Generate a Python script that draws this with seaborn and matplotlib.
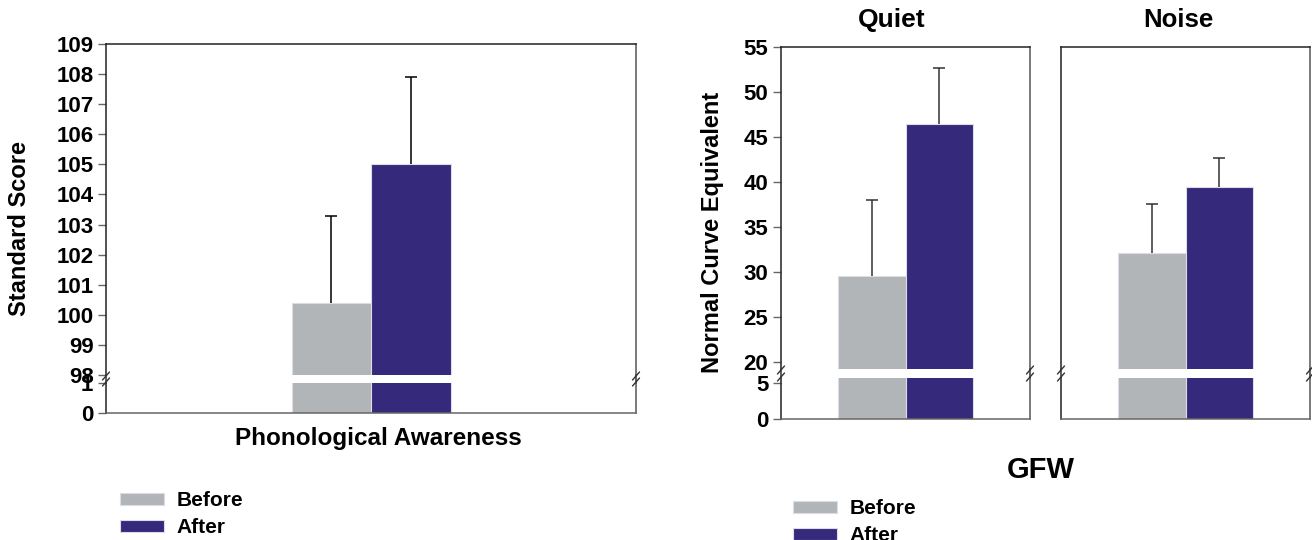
import matplotlib
matplotlib.use("Agg")
import matplotlib.pyplot as plt
import seaborn as sns
import pandas as pd
from matplotlib.lines import Line2D

# values
groups = ["Before", "After"]
pa_means = [100.4, 105.0]
pa_sd = [2.9, 2.9]
quiet_means = [29.5, 46.4]
quiet_sd = [8.5, 6.3]
noise_means = [32.1, 39.4]
noise_sd = [5.4, 3.3]

pa_ticks_upper = list(range(98, 110))
pa_ticks_lower = [0, 1]
nce_ticks_upper = list(range(20, 60, 5))
nce_ticks_lower = [0, 5]

colors = {"Before": "#b1b5b7", "After": "#35297c"}

sns.set_theme(style="white")
plt.rcParams["font.family"] = ["Liberation Sans", "DejaVu Sans"]
plt.rcParams["font.weight"] = "bold"
plt.rcParams["text.color"] = "black"
plt.rcParams["ytick.color"] = "black"

W, H = 1312, 540
fig = plt.figure(figsize=(W / 100, H / 100), dpi=100)


def px_axes(x0, x1, y0, y1):
    return fig.add_axes([x0 / W, 1 - y1 / H, (x1 - x0) / W, (y1 - y0) / H])


def fline(xs, ys, **kw):
    fig.add_artist(Line2D([x / W for x in xs], [1 - y / H for y in ys], **kw))


def broken_panel(x0, x1, top, mid_a, mid_b, bottom, means, sds, ylim_up, ylim_lo,
                 yt_up, yt_lo, width, cat, show_ticks=True, legend=False, err_color="black"):
    df = pd.DataFrame({"cat": [cat] * len(groups), "group": groups, "value": means})
    up = px_axes(x0, x1, top, mid_a)
    lo = px_axes(x0, x1, mid_b, bottom)
    for ax, leg in ((up, legend), (lo, False)):
        sns.barplot(data=df, x="cat", y="value", hue="group", hue_order=groups,
                    palette=colors, saturation=1, width=width, errorbar=None,
                    edgecolor="#dcdce6", linewidth=0.8, legend=leg, ax=ax)
        ax.set_xlim(-0.5, 0.5)
        ax.set_xticks([])
        ax.set_xlabel("")
        ax.set_ylabel("")
        for s in ax.spines.values():
            s.set_linewidth(1.1)
        ax.spines["left"].set_color("#222222")
        ax.spines["right"].set_color("#555555")

    # one-sided (upward) error bars
    for patch, m, sd in zip(up.patches[:len(groups)], means, sds):
        xc = patch.get_x() + patch.get_width() / 2
        _, caps, _ = up.errorbar(xc, m, yerr=[[0], [sd]], fmt="none", ecolor=err_color,
                                 elinewidth=1.1, capsize=4.5, capthick=1.1)
        caps[0].set_visible(False)

    up.set_ylim(*ylim_up)
    up.set_yticks(yt_up)
    lo.set_ylim(*ylim_lo)
    lo.set_yticks(yt_lo)
    up.spines["bottom"].set_visible(False)
    up.spines["top"].set_color("#222222")
    lo.spines["top"].set_visible(False)
    lo.spines["bottom"].set_color("#666666")
    for ax in (up, lo):
        if show_ticks:
            ax.tick_params(axis="y", left=True, direction="out", length=6, width=1,
                           color="#666666", labelsize=16, pad=3, labelcolor="black")
        else:
            ax.tick_params(axis="y", left=False, labelleft=False)

    # spine pieces across the gap and break marks
    for x in (x0, x1):
        fline([x, x], [mid_a, mid_b], color="#333333", lw=1.1)
        for y in (mid_a + 1, mid_b - 1):
            fline([x - 3.5, x + 3.5], [y + 4, y - 4], color="#333333", lw=1.0)
    return up, lo


# left: phonological awareness
pa_up, pa_lo = broken_panel(106, 636, 44, 375, 383, 413, pa_means, pa_sd,
                            (98, 109), (0, 1), pa_ticks_upper, pa_ticks_lower,
                            0.30, "Phonological Awareness", legend=True)
handles, labels = pa_up.get_legend_handles_labels()
pa_up.get_legend().remove()

# right: GFW quiet / noise
broken_panel(781, 1030, 47, 369, 378, 419, quiet_means, quiet_sd,
             (19.2, 55), (0, 5.7), nce_ticks_upper, nce_ticks_lower,
             0.546, "Quiet", err_color="#333333")
broken_panel(1061, 1310, 47, 369, 378, 419, noise_means, noise_sd,
             (19.2, 55), (0, 5.7), nce_ticks_upper, nce_ticks_lower,
             0.546, "Noise", show_ticks=False, err_color="#333333")

fig.text(20 / W, 1 - 229 / H, "Standard Score", rotation=90, ha="center", va="center", fontsize=17)
fig.text(713 / W, 1 - 232 / H, "Normal Curve Equivalent", rotation=90, ha="center", va="center", fontsize=17)
fig.text(378 / W, 1 - 438 / H, "Phonological Awareness", ha="center", va="center", fontsize=17.5)
fig.text(1041 / W, 1 - 470 / H, "GFW", ha="center", va="center", fontsize=21)
fig.text(892 / W, 1 - 20 / H, "Quiet", ha="center", va="center", fontsize=19)
fig.text(1178 / W, 1 - 20 / H, "Noise", ha="center", va="center", fontsize=18.5)

leg_kw = dict(loc="upper left", frameon=False, fontsize=15, handlelength=2.1, handleheight=0.5,
              handletextpad=0.6, labelspacing=0.4, borderpad=0, borderaxespad=0)
fig.legend(handles, labels, bbox_to_anchor=(120 / W, 1 - 491 / H), **leg_kw)
fig.legend(handles, labels, bbox_to_anchor=(793 / W, 1 - 499 / H), **leg_kw)

fig.savefig("out.png", dpi=100)
